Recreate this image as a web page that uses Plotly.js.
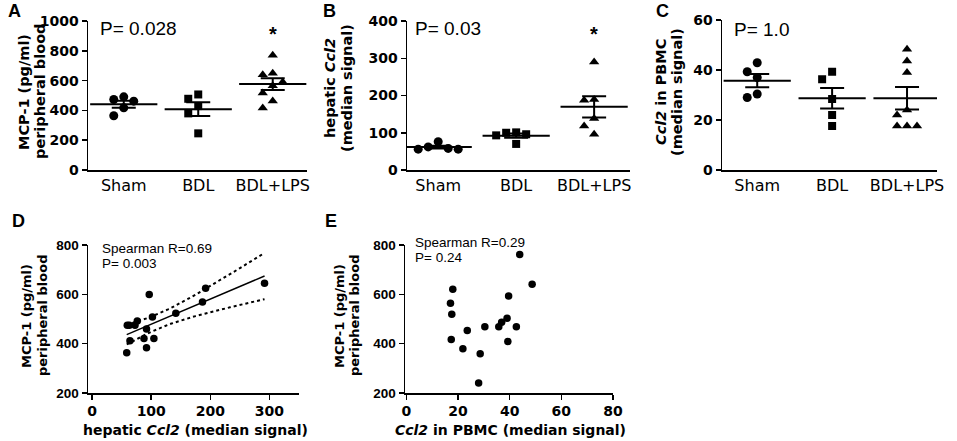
<!DOCTYPE html>
<html>
<head>
<meta charset="utf-8">
<script src="https://cdn.plot.ly/plotly-3.0.1.min.js"></script>
<style>
  html, body { margin: 0; padding: 0; background: #fff; }
  #chart { width: 957px; height: 441px; }
</style>
</head>
<body>
<div id="chart"></div>
<script>
// group labels shared by panels A-C
const groups = ['Sham', 'BDL', 'BDL+LPS'];

// A: MCP-1 (pg/ml) in peripheral blood
const mcpSham = [473, 462, 491, 364, 417];
const mcpBdl = [507, 478, 429, 380, 246];
const mcpLps = [770, 650, 640, 590, 565, 517, 463, 416];

// B: hepatic Ccl2 (median signal)
const hepSham = [76, 58, 56, 56, 62];
const hepBdl = [100, 96, 70, 101, 93];
const hepLps = [290, 187, 189, 138, 118, 96];

// C: Ccl2 in PBMC (median signal)
const pbmcSham = [42.9, 39.3, 37, 29, 30.4];
const pbmcBdl = [39.3, 36.3, 28.4, 22, 17.6];
const pbmcLps = [48.3, 43.6, 39, 24, 22, 17.6, 17.6, 17.6];

// D: hepatic Ccl2 vs MCP-1
const dHep = [58.5, 59.5, 63, 64, 72.5, 76.4, 87.7, 92, 92, 96.6, 102, 104.5, 141.6, 186.7, 192, 291.7];
const dMcp = [363, 475, 475, 412, 475, 492, 421, 459, 383, 599, 508, 421, 523, 569, 625, 645];

// E: PBMC Ccl2 vs MCP-1
const ePbmc = [18.0, 17.1, 17.6, 17.4, 21.9, 23.6, 28.6, 28.0, 30.4, 35.8, 36.9, 39.0, 39.6, 39.3, 42.6, 43.9, 48.7];
const eMcp = [621, 564, 519, 417, 379, 453, 359, 241, 469, 469, 487, 503, 593, 409, 469, 761, 641];

const W = 957, H = 441;
const px = x => x / W;
const py = y => 1 - y / H;

const boldFont = 'DejaVu Sans, sans-serif';
const armFont = 'Liberation Sans, Arial, sans-serif';

function mean(a) { return a.reduce((s, v) => s + v, 0) / a.length; }
function sem(a) {
  const m = mean(a);
  const v = a.reduce((s, x) => s + (x - m) * (x - m), 0) / (a.length - 1);
  return Math.sqrt(v / a.length);
}

// simple beeswarm so overlapping points sit side by side
function swarm(vals, center, pxPerY, pxPerX, d) {
  const order = vals.map((v, i) => i).sort((a, b) => vals[b] - vals[a]);
  const placed = [];
  const xs = new Array(vals.length);
  for (const i of order) {
    for (let k = 0; k < 40; k++) {
      const off = k === 0 ? 0 : (k % 2 ? -1 : 1) * Math.ceil(k / 2) * d;
      const ok = placed.every(p => Math.hypot(p.x - off, (p.y - vals[i]) * pxPerY) >= d);
      if (ok) {
        placed.push({x: off, y: vals[i]});
        xs[i] = center + off / pxPerX;
        break;
      }
    }
  }
  return xs;
}

const symbols = ['circle', 'square', 'triangle-up'];
const sizes = [9, 8, 9];

function dotPanel(sets, ax, pxPerY, pxPerX) {
  const out = [];
  sets.forEach((vals, g) => {
    out.push({
      x: swarm(vals, g, pxPerY, pxPerX, 10),
      y: vals,
      type: 'scatter', mode: 'markers',
      xaxis: 'x' + ax, yaxis: 'y' + ax,
      marker: {symbol: symbols[g], size: sizes[g], color: '#000'},
      hoverinfo: 'skip'
    });
  });
  out.push({
    x: [0, 1, 2],
    y: sets.map(mean),
    type: 'scatter', mode: 'markers',
    xaxis: 'x' + ax, yaxis: 'y' + ax,
    marker: {symbol: 'line-ew', size: 48, color: '#000', line: {width: 2, color: '#000'}},
    error_y: {type: 'data', array: sets.map(sem), visible: true, width: 12, thickness: 2, color: '#000'},
    hoverinfo: 'skip'
  });
  return out;
}

// linear regression with 95% confidence band
function regression(xs, ys) {
  const n = xs.length;
  const mx = mean(xs), my = mean(ys);
  let sxx = 0, sxy = 0;
  xs.forEach((x, i) => { sxx += (x - mx) ** 2; sxy += (x - mx) * (ys[i] - my); });
  const b = sxy / sxx, a = my - b * mx;
  let ss = 0;
  xs.forEach((x, i) => { ss += (ys[i] - a - b * x) ** 2; });
  const s = Math.sqrt(ss / (n - 2));
  const t = 2.145; // t(0.975, df=14)
  const lo = Math.min(...xs), hi = Math.max(...xs);
  const gx = [], fit = [], up = [], dn = [];
  for (let k = 0; k <= 40; k++) {
    const x = lo + (hi - lo) * k / 40;
    const f = a + b * x;
    const e = t * s * Math.sqrt(1 / n + (x - mx) ** 2 / sxx);
    gx.push(x); fit.push(f); up.push(f + e); dn.push(f - e);
  }
  return {gx, fit, up, dn};
}

const reg = regression(dHep, dMcp);

const data = [
  ...dotPanel([mcpSham, mcpBdl, mcpLps], '', 149 / 1000, 74.5),
  ...dotPanel([hepSham, hepBdl, hepLps], '2', 149 / 400, 78),
  ...dotPanel([pbmcSham, pbmcBdl, pbmcLps], '3', 150 / 60, 75),
  {x: reg.gx, y: reg.up, type: 'scatter', mode: 'lines', xaxis: 'x4', yaxis: 'y4',
   line: {color: '#000', width: 2, dash: 'dot'}, hoverinfo: 'skip'},
  {x: reg.gx, y: reg.dn, type: 'scatter', mode: 'lines', xaxis: 'x4', yaxis: 'y4',
   line: {color: '#000', width: 2, dash: 'dot'}, hoverinfo: 'skip'},
  {x: reg.gx, y: reg.fit, type: 'scatter', mode: 'lines', xaxis: 'x4', yaxis: 'y4',
   line: {color: '#000', width: 1.5}, hoverinfo: 'skip'},
  {x: dHep, y: dMcp, type: 'scatter', mode: 'markers', xaxis: 'x4', yaxis: 'y4',
   marker: {size: 7.5, color: '#000'}, hoverinfo: 'skip'},
  {x: ePbmc, y: eMcp, type: 'scatter', mode: 'markers', xaxis: 'x5', yaxis: 'y5',
   marker: {size: 7.5, color: '#000'}, hoverinfo: 'skip'}
];

function catAxis(x0, x1, range, anchor) {
  return {
    domain: [px(x0), px(x1)], range: range, anchor: anchor,
    tickvals: [0, 1, 2], ticktext: groups, ticks: '',
    showline: true, linewidth: 1.5, linecolor: '#000',
    showgrid: false, zeroline: false,
    tickfont: {family: boldFont, size: 16, color: '#000'}
  };
}
function valAxis(y0, y1, range, dtick, anchor, font) {
  return {
    domain: [py(y1), py(y0)], range: range, dtick: dtick, anchor: anchor,
    ticks: 'outside', ticklen: 5, tickwidth: 1.5, tickcolor: '#000',
    showline: true, linewidth: 1.5, linecolor: '#000',
    showgrid: false, zeroline: false,
    tickfont: font
  };
}
const tickBold14 = {family: boldFont, size: 14, color: '#000', weight: 'bold'};
const tickBold13 = {family: armFont, size: 13.5, color: '#000', weight: 'bold'};

const layout = {
  width: W, height: H,
  margin: {l: 0, r: 0, t: 0, b: 0},
  paper_bgcolor: '#fff', plot_bgcolor: '#fff',
  showlegend: false,
  xaxis: catAxis(88, 307, [-0.48, 2.46], 'y'),
  yaxis: valAxis(21, 170, [0, 1000], 200, 'x', tickBold14),
  xaxis2: catAxis(407, 630, [-0.4, 2.46], 'y2'),
  yaxis2: valAxis(21, 170, [0, 400], 100, 'x2', tickBold14),
  xaxis3: catAxis(722, 937, [-0.47, 2.4], 'y3'),
  yaxis3: valAxis(20, 170, [0, 60], 20, 'x3', tickBold14),
  xaxis4: Object.assign(valAxis(0, 0, [-7, 350], 100, 'y4', tickBold14), {domain: [px(88), px(299)]}),
  yaxis4: valAxis(245, 393, [200, 800], 200, 'x4', tickBold13),
  xaxis5: Object.assign(valAxis(0, 0, [-0.5, 80], 20, 'y5', tickBold14), {domain: [px(405), px(613)]}),
  yaxis5: valAxis(245, 393, [200, 800], 200, 'x5', tickBold13),
  annotations: []
};

function note(text, x, y, opts) {
  layout.annotations.push(Object.assign({
    text: text, xref: 'paper', yref: 'paper', x: px(x), y: py(y),
    xanchor: 'center', yanchor: 'middle', showarrow: false,
    font: {family: armFont, size: 14, color: '#000'}
  }, opts || {}));
}
const titleFont = s => ({family: boldFont, size: s, color: '#000', weight: 'bold'});

// panel letters
[['A', 14, 11], ['B', 329, 11], ['C', 662, 11], ['D', 18, 221], ['E', 331, 221]].forEach(([t, x, y]) =>
  note(t, x, y, {font: {family: armFont, size: 18, color: '#000', weight: 'bold'}}));

// y titles, two rotated lines each
note('MCP-1 (pg/ml)', 24, 92, {textangle: -90, font: titleFont(14.5)});
note('peripheral blood', 40, 92, {textangle: -90, font: titleFont(14.5)});
note('hepatic <i>Ccl2</i>', 330, 88, {textangle: -90, font: titleFont(14.5)});
note('(median signal)', 347, 88, {textangle: -90, font: titleFont(14.5)});
note('<i>Ccl2</i> in PBMC', 661, 92, {textangle: -90, font: titleFont(14.5)});
note('(median signal)', 677, 92, {textangle: -90, font: titleFont(14.5)});
note('MCP-1 (pg/ml)', 26, 316, {textangle: -90, font: titleFont(13)});
note('peripheral blood', 42, 316, {textangle: -90, font: titleFont(13)});
note('MCP-1 (pg/ml)', 339, 316, {textangle: -90, font: titleFont(13)});
note('peripheral blood', 354, 316, {textangle: -90, font: titleFont(13)});

// x titles of D and E
note('hepatic <i>Ccl2</i> (median signal)', 195, 430, {font: titleFont(14)});
note('<i>Ccl2</i> in PBMC (median signal)', 510, 430, {font: titleFont(14)});

// P values and stars
note('P= 0.028', 98, 28, {xanchor: 'left', font: {family: armFont, size: 19, color: '#000'}});
note('P= 0.03', 413, 28, {xanchor: 'left', font: {family: armFont, size: 19, color: '#000'}});
note('P= 1.0', 732, 29, {xanchor: 'left', font: {family: armFont, size: 19, color: '#000'}});
note('*', 273, 34, {font: {family: armFont, size: 20, color: '#000', weight: 'bold'}});
note('*', 594, 34, {font: {family: armFont, size: 20, color: '#000', weight: 'bold'}});

note('Spearman R=0.69', 100, 249, {xanchor: 'left', font: {family: armFont, size: 13.5, color: '#000'}});
note('P= 0.003', 100, 263, {xanchor: 'left', font: {family: armFont, size: 13.5, color: '#000'}});
note('Spearman R=0.29', 413, 242, {xanchor: 'left', font: {family: armFont, size: 13.5, color: '#000'}});
note('P= 0.24', 413, 257, {xanchor: 'left', font: {family: armFont, size: 13.5, color: '#000'}});

Plotly.newPlot('chart', data, layout, {staticPlot: true});
</script>
</body>
</html>
